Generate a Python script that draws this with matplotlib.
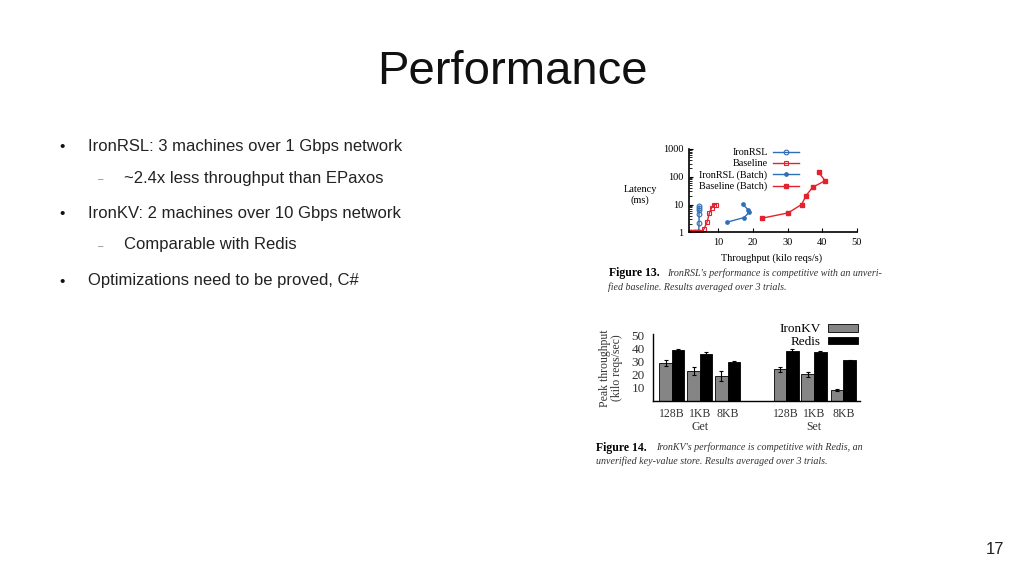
import numpy as np
import matplotlib.pyplot as plt
from matplotlib.ticker import LogLocator, NullFormatter

# slide text
title = "Performance"
bullets = [
    (1, "IronRSL: 3 machines over 1 Gbps network"),
    (2, "~2.4x less throughput than EPaxos"),
    (1, "IronKV: 2 machines over 10 Gbps network"),
    (2, "Comparable with Redis"),
    (1, "Optimizations need to be proved, C#"),
]
page_no = "17"

# figure 13: latency vs throughput
rsl_x = [2.2, 2.9, 3.5, 4.0, 4.3, 4.4, 4.4, 4.4, 4.4, 4.4]
rsl_y = [1, 1, 1, 1, 1, 2.1, 4.4, 6.2, 7.3, 8.6]
base_x = [1.8, 2.6, 3.4, 4.2, 5.0, 5.8, 6.7, 7.4, 8.0, 8.6, 9.3]
base_y = [1, 1, 1, 1, 1, 1.3, 2.3, 5.0, 7.5, 10, 10]
rsl_batch_x = [12.4, 17.4, 18.9, 18.5, 17.0]
rsl_batch_y = [2.3, 3.4, 5.3, 6.6, 10.3]
base_batch_x = [22.5, 30.1, 34.0, 35.3, 37.2, 40.8, 38.9]
base_batch_y = [3.2, 5.0, 10, 21, 42, 72, 145]

# figure 14: peak throughput
kv_groups = ["Get", "Set"]
kv_sizes = ["128B", "1KB", "8KB"]
ironkv = [29, 22.8, 18.9, 23.9, 20.1, 8.2]
ironkv_err = [2.2, 2.8, 3.8, 1.8, 1.8, 1.0]
redis = [38.6, 36.0, 29.8, 38.1, 37.1, 30.8]
redis_err = [0.6, 1.4, 0.6, 1.5, 0.6, 0.6]

blue = '#2e6fb7'
red = '#e2222f'
serif = ['Liberation Serif', 'DejaVu Serif']
sans = ['Liberation Sans', 'DejaVu Sans']
W, H = 1024, 576

fig = plt.figure(figsize=(10.24, 5.76), dpi=100)
fig.patch.set_facecolor('white')


def fx(px):
    return px / W


def fy(py):
    return 1 - py / H


fig.text(fx(512), fy(72), title, family=sans, fontsize=34,
         ha='center', va='center', color='#111111')

ys = [146, 178, 213, 245, 281]
for (level, txt), y in zip(bullets, ys):
    if level == 1:
        fig.text(fx(62), fy(y + 1), u"\u2022", family=sans, fontsize=11,
                 ha='center', va='center', color='#111111')
        fig.text(fx(88), fy(y), txt, family=sans, fontsize=12,
                 ha='left', va='center', color='#222222')
    else:
        fig.text(fx(101), fy(y + 1), u"\u2013", family=sans, fontsize=7,
                 ha='center', va='center', color='#888888')
        fig.text(fx(124), fy(y), txt, family=sans, fontsize=12,
                 ha='left', va='center', color='#222222')

fig.text(fx(995), fy(549), page_no, family=sans, fontsize=12,
         ha='center', va='center', color='#222222')

# ---- figure 13 ----
ax1 = fig.add_axes([fx(689), fy(232.3), fx(857) - fx(689), fy(149) - fy(232.3)])
ax1.plot(rsl_x, rsl_y, color=blue, lw=1, marker='o', ms=3.4,
         mfc='none', mew=0.8, label='IronRSL')
ax1.plot(base_x, base_y, color=red, lw=1, marker='s', ms=3.4,
         mfc='none', mew=0.8, label='Baseline')
ax1.plot(rsl_batch_x, rsl_batch_y, color=blue, lw=1, marker='o', ms=2.4,
         label='IronRSL (Batch)')
ax1.plot(base_batch_x, base_batch_y, color=red, lw=1, marker='s', ms=3.4,
         label='Baseline (Batch)')
ax1.set_yscale('log')
ax1.set_xlim(1.5, 50)
ax1.set_ylim(1, 1000)
ax1.set_yticks([1, 10, 100, 1000])
ax1.set_yticklabels(['1', '10', '100', '1000'])
ax1.yaxis.set_minor_locator(LogLocator(base=10, subs=np.arange(2, 10)))
ax1.yaxis.set_minor_formatter(NullFormatter())
ax1.set_xticks([10, 20, 30, 40, 50])
for s in ['top', 'right']:
    ax1.spines[s].set_visible(False)
for s in ['left', 'bottom']:
    ax1.spines[s].set_linewidth(1.2)
ax1.tick_params(which='major', direction='in', length=3, width=0.8,
                labelsize=7.5, pad=4)
ax1.tick_params(which='minor', direction='in', length=1.8, width=0.6)
for lab in ax1.get_xticklabels() + ax1.get_yticklabels():
    lab.set_family(serif)
leg = ax1.legend(loc='upper right', bbox_to_anchor=(fx(799), fy(148)),
                 bbox_transform=fig.transFigure, frameon=False,
                 markerfirst=False, numpoints=1, handlelength=2.6,
                 handletextpad=0.5, labelspacing=0.2, borderpad=0,
                 borderaxespad=0, prop={'family': serif, 'size': 7.3})
fig.text(fx(772), fy(258), "Throughput (kilo reqs/s)", family=serif,
         fontsize=7.5, ha='center', va='center')
fig.text(fx(640), fy(195), "Latency\n(ms)", family=serif, fontsize=7.5,
         ha='center', va='center', linespacing=1.1)
fig.text(fx(609), fy(273), "Figure 13.", family=serif, fontsize=8.5,
         weight='bold', ha='left', va='center')
fig.text(fx(667), fy(273), "IronRSL's performance is competitive with an unveri-",
         family=serif, fontsize=7.2, style='italic', ha='left', va='center',
         color='#333333')
fig.text(fx(608), fy(287.5), "fied baseline. Results averaged over 3 trials.",
         family=serif, fontsize=7.2, style='italic', ha='left', va='center',
         color='#333333')

# ---- figure 14 ----
pos = np.array([0, 1, 2, 4.1, 5.1, 6.15])
bw = 0.45
ax2 = fig.add_axes([fx(653), fy(400.8), fx(860) - fx(653), fy(334) - fy(400.8)])
ax2.bar(pos - bw / 2, ironkv, bw, yerr=ironkv_err, color='#858585',
        edgecolor='black', lw=0.6, label='IronKV',
        error_kw=dict(ecolor='black', elinewidth=0.8, capsize=1.5, capthick=0.8))
ax2.bar(pos + bw / 2, redis, bw, yerr=redis_err, color='black',
        edgecolor='black', lw=0.6, label='Redis',
        error_kw=dict(ecolor='black', elinewidth=0.8, capsize=1.5, capthick=0.8))
ax2.set_xlim(-0.68, 6.75)
ax2.set_ylim(0, 51)
ax2.set_yticks([10, 20, 30, 40, 50])
ax2.set_xticks(pos)
ax2.set_xticklabels(kv_sizes * 2)
for s in ['top', 'right']:
    ax2.spines[s].set_visible(False)
for s in ['left', 'bottom']:
    ax2.spines[s].set_linewidth(1.0)
ax2.tick_params(direction='in', length=0, labelsize=8.5, pad=5)
ax2.tick_params(axis='y', labelsize=9.5, pad=6)
for lab in ax2.get_xticklabels() + ax2.get_yticklabels():
    lab.set_family(serif)
    lab.set_color('#333333')
for g, c in zip(kv_groups, [pos[1], pos[4]]):
    ax2.text(c, -0.39, g, transform=ax2.get_xaxis_transform(),
             family=serif, fontsize=8.5, ha='center', va='center',
             color='#333333')
ax2.legend(loc='upper right', bbox_to_anchor=(fx(858), fy(323.5)),
           bbox_transform=fig.transFigure, frameon=False, markerfirst=False,
           handlelength=2.3, handleheight=0.55, handletextpad=0.5,
           labelspacing=0.05, borderpad=0, borderaxespad=0,
           prop={'family': serif, 'size': 9.5})
fig.text(fx(611), fy(368), "Peak throughput\n(kilo reqs/sec)", family=serif,
         fontsize=8.5, rotation=90, ha='center', va='center',
         linespacing=1.0, color='#333333')
fig.text(fx(596), fy(447.5), "Figure 14.", family=serif, fontsize=8.5,
         weight='bold', ha='left', va='center')
fig.text(fx(656), fy(447.5), "IronKV's performance is competitive with Redis, an",
         family=serif, fontsize=7.2, style='italic', ha='left', va='center',
         color='#333333')
fig.text(fx(596), fy(461.5), "unverified key-value store. Results averaged over 3 trials.",
         family=serif, fontsize=7.2, style='italic', ha='left', va='center',
         color='#333333')

fig.savefig('out.png', dpi=100)
